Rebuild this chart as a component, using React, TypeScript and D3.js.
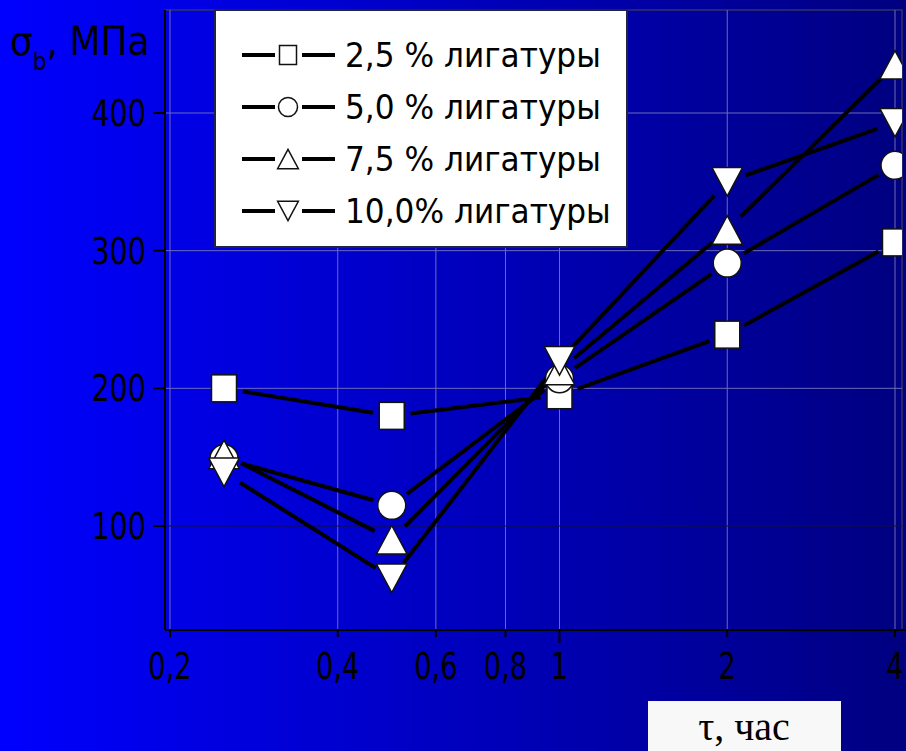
import React from 'react';
import * as d3 from 'd3';

// time, hours (log axis)
const hours = [0.25, 0.5, 1, 2, 4];
// ultimate strength, MPa, per master-alloy share
const lig25 = [200, 180, 195, 239, 306];
const lig50 = [149, 115, 207, 291, 362];
const lig75 = [152, 90, 213, 315, 435];
const lig100 = [139, 62, 220, 350, 393];

const seriesNames = ['2,5 % лигатуры', '5,0 % лигатуры', '7,5 % лигатуры', '10,0% лигатуры'];
const seriesShapes = ['square', 'circle', 'up', 'down'];
const xTicks = [0.2, 0.4, 0.6, 0.8, 1, 2, 4];
const xTickLabels = ['0,2', '0,4', '0,6', '0,8', '1', '2', '4'];
const yTicks = [100, 200, 300, 400];

const W = 906;
const H = 751;
const FONT = "'DejaVu Sans Condensed', 'DejaVu Sans', sans-serif";

const Marker = ({ shape, x, y, s }: { shape: string; x: number; y: number; s: number }) => {
  const st = { fill: '#fff', stroke: '#111', strokeWidth: 1.5 };
  if (shape === 'square') return <rect x={x - s / 2} y={y - s / 2 - 1} width={s} height={s + 2} {...st} />;
  if (shape === 'circle') return <circle cx={x} cy={y} r={s * 0.56} {...st} />;
  const w = s * 1.22, h = s * 1.14;
  if (shape === 'up')
    return <path d={`M${x},${y - h / 2}L${x + w / 2},${y + h / 2}L${x - w / 2},${y + h / 2}Z`} {...st} />;
  return <path d={`M${x},${y + h / 2}L${x + w / 2},${y - h / 2}L${x - w / 2},${y - h / 2}Z`} {...st} />;
};

const NText = ({ x, y, sx, size, anchor, children }: any) => (
  <text transform={`translate(${x},${y}) scale(${sx},1)`} fontSize={size} textAnchor={anchor || 'start'}
    fontFamily={FONT} fill="#000">{children}</text>
);

export default function App() {
  const x = d3.scaleLog().domain([0.2, 4]).range([170, 895]);
  const y = d3.scaleLinear().domain([100, 400]).range([526, 113]);
  const left = 165, right = 902, top = 10, bottom = 630;
  const all = [lig25, lig50, lig75, lig100];
  const gap = 19;

  return (
    <svg width={W} height={H} style={{ position: 'absolute', left: 0, top: 0 }}>
      <defs>
        <linearGradient id="bg" x1="0" x2="1" y1="0" y2="0">
          <stop offset="0" stopColor="#0000ff" />
          <stop offset="1" stopColor="#000080" />
        </linearGradient>
        <clipPath id="plot">
          <rect x={left} y={top} width={right - left} height={bottom - top} />
        </clipPath>
      </defs>
      <rect width={W} height={H} fill="url(#bg)" />

      {/* grid */}
      <rect x={left} y={top} width={right - left} height={bottom - top} fill="none" stroke="#333366" strokeWidth={1.5} />
      {xTicks.map(t => (
        <line key={'gx' + t} x1={x(t)} x2={x(t)} y1={top} y2={bottom} stroke="#6a6ab8" strokeWidth={1} />
      ))}
      {yTicks.map(t => (
        <line key={'gy' + t} x1={left} x2={right} y1={y(t)} y2={y(t)} stroke={t === 100 ? '#10103a' : '#6a6ab8'} strokeWidth={1} />
      ))}

      {/* axes */}
      <line x1={left} x2={left} y1={top} y2={bottom} stroke="#000" strokeWidth={2} />
      <line x1={left} x2={W} y1={bottom} y2={bottom} stroke="#000" strokeWidth={2} />
      {yTicks.map(t => (
        <g key={'ty' + t}>
          <line x1={left - 12} x2={left} y1={y(t)} y2={y(t)} stroke="#000" strokeWidth={2} />
          <NText x={146} y={y(t) + 13} sx={0.86} size={37} anchor="end">{t}</NText>
        </g>
      ))}
      {xTicks.map((t, i) => (
        <g key={'tx' + t}>
          <line x1={x(t)} x2={x(t)} y1={bottom} y2={bottom + (t === 1 ? 13 : 7)} stroke="#000" strokeWidth={2} />
          <NText x={x(t)} y={679} sx={0.82} size={37} anchor="middle">{xTickLabels[i]}</NText>
        </g>
      ))}

      {/* series */}
      <g clipPath="url(#plot)">
        {all.map((vals, si) => (
          <g key={'s' + si}>
            {vals.slice(1).map((v, i) => {
              const x1 = x(hours[i]), y1 = y(vals[i]), x2 = x(hours[i + 1]), y2 = y(v);
              const len = Math.hypot(x2 - x1, y2 - y1);
              const ux = (x2 - x1) / len, uy = (y2 - y1) / len;
              return (
                <line key={i} x1={x1 + ux * gap} y1={y1 + uy * gap} x2={x2 - ux * gap} y2={y2 - uy * gap}
                  stroke="#000" strokeWidth={4} />
              );
            })}
          </g>
        ))}
        {all.map((vals, si) => (
          <g key={'m' + si}>
            {vals.map((v, i) => (
              <Marker key={i} shape={seriesShapes[si]} x={x(hours[i])} y={y(v)} s={25} />
            ))}
          </g>
        ))}
      </g>

      {/* legend */}
      <rect x={215} y={10} width={412} height={237} fill="#fff" stroke="#222244" strokeWidth={2} />
      {seriesNames.map((name, i) => {
        const cy = 55 + i * 52;
        return (
          <g key={'l' + i}>
            <line x1={242} x2={275} y1={cy} y2={cy} stroke="#000" strokeWidth={4} />
            <line x1={302} x2={335} y1={cy} y2={cy} stroke="#000" strokeWidth={4} />
            <Marker shape={seriesShapes[i]} x={288} y={cy} s={17} />
            <NText x={345} y={cy + 12} sx={1.02} size={34}>{name}</NText>
          </g>
        );
      })}

      {/* y title */}
      <text x={10} y={55} fontFamily={FONT} fontSize={40} fill="#000">
        σ<tspan fontSize={24} dy={15}>b</tspan><tspan dy={-15}>, МПа</tspan>
      </text>

      {/* x title */}
      <rect x={648} y={701} width={193} height={60} fill="#f8f8f8" />
      <text x={744} y={740} textAnchor="middle" fontFamily="'Liberation Serif', 'Times New Roman', serif" fontSize={40} fill="#000">
        τ, час
      </text>
    </svg>
  );
}
